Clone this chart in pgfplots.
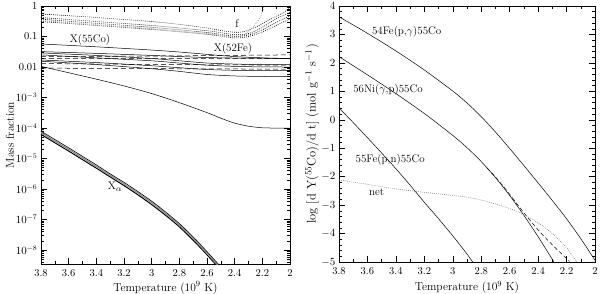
\documentclass[border=0pt]{standalone}
\usepackage{pgfplots}
\pgfplotsset{compat=1.18}
\begin{document}
\begin{tikzpicture}
\tikzset{lab/.style={font=\fontsize{11}{13}\selectfont}}
\pgfplotsset{
  panel/.style={
    scale only axis,
    tick align=inside,
    major tick length=6pt, minor tick length=3pt,
    axis line style={line width=0.8pt},
    every tick/.style={black, line width=0.5pt},
    x dir=reverse, xmin=2, xmax=3.8,
    xtick={2,2.2,2.4,2.6,2.8,3,3.2,3.4,3.6,3.8},
    xticklabels={2,2.2,2.4,2.6,2.8,3,3.2,3.4,3.6,3.8},
    minor x tick num=1,
    tick label style={font=\fontsize{10.5}{12}\selectfont},
    xticklabel style={yshift=-2pt},
    label style={font=\fontsize{11.5}{13}\selectfont},
    xlabel={Temperature (10$^9$ K)},
    clip=true,
  },
  sl/.style={black, line width=0.5pt, smooth},
  dl/.style={black, line width=0.5pt, dash pattern=on 5pt off 3pt},
  dt/.style={black, line width=0.6pt, dash pattern=on 0.8pt off 1.2pt, smooth},
}
% ---------------- left panel ----------------
\begin{axis}[panel, at={(0pt,0pt)}, anchor=south west, width=249pt, height=258pt,
  ymode=log, ymin=3.5e-9, ymax=1,
  ytick={1e-8,1e-7,1e-6,1e-5,1e-4,1e-3,1e-2,1e-1,1},
  yticklabels={$10^{-8}$,$10^{-7}$,$10^{-6}$,$10^{-5}$,$10^{-4}$,$10^{-3}$,0.01,0.1,1},
  minor ytick={4e-9,5e-9,6e-9,7e-9,8e-9,9e-9,
    2e-8,3e-8,4e-8,5e-8,6e-8,7e-8,8e-8,9e-8,
    2e-7,3e-7,4e-7,5e-7,6e-7,7e-7,8e-7,9e-7,
    2e-6,3e-6,4e-6,5e-6,6e-6,7e-6,8e-6,9e-6,
    2e-5,3e-5,4e-5,5e-5,6e-5,7e-5,8e-5,9e-5,
    2e-4,3e-4,4e-4,5e-4,6e-4,7e-4,8e-4,9e-4,
    2e-3,3e-3,4e-3,5e-3,6e-3,7e-3,8e-3,9e-3,
    2e-2,3e-2,4e-2,5e-2,6e-2,7e-2,8e-2,9e-2,
    0.2,0.3,0.4,0.5,0.6,0.7,0.8,0.9},
  ylabel={Mass fraction},
  ylabel style={at={(axis description cs:-0.125,0.5)}, anchor=center},
  xlabel style={at={(axis description cs:0.5,-0.093)}, anchor=center},
]
% dotted (f-type) curves
\addplot[dt] coordinates {(3.8,0.55)(3.6,0.48)(3.4,0.42)(3.2,0.36)(3.0,0.31)(2.8,0.25)(2.6,0.19)(2.45,0.145)(2.35,0.14)(2.25,0.2)(2.15,0.35)(2.05,0.6)(2.0,0.88)};
\addplot[dt] coordinates {(3.8,0.42)(3.4,0.31)(3.0,0.23)(2.6,0.155)(2.4,0.115)(2.3,0.125)(2.2,0.2)(2.1,0.38)(2.0,0.62)};
\addplot[dt] coordinates {(3.8,0.37)(3.4,0.27)(3.0,0.2)(2.6,0.135)(2.4,0.102)(2.3,0.112)(2.2,0.165)(2.1,0.29)(2.0,0.48)};
\addplot[dt] coordinates {(3.8,0.31)(3.4,0.23)(3.0,0.17)(2.6,0.118)(2.4,0.09)(2.3,0.1)(2.2,0.14)(2.1,0.23)(2.0,0.38)};
\addplot[dt, gray] coordinates {(3.8,0.33)(3.4,0.245)(3.0,0.18)(2.6,0.125)(2.4,0.096)(2.34,0.11)(2.3,0.15)(2.26,0.22)(2.22,0.4)(2.2,0.65)(2.185,1.0)};
% solid curves
\addplot[sl] coordinates {(3.8,0.057)(3.4,0.046)(3.0,0.036)(2.8,0.031)(2.6,0.026)(2.4,0.022)(2.2,0.020)(2.0,0.019)};
\addplot[sl] coordinates {(3.8,0.032)(3.4,0.028)(3.0,0.024)(2.8,0.022)(2.6,0.0205)(2.4,0.0197)(2.2,0.0194)(2.0,0.0193)};
\addplot[sl] coordinates {(3.8,0.029)(3.4,0.024)(3.0,0.019)(2.8,0.016)(2.6,0.0135)(2.4,0.0125)(2.2,0.012)(2.0,0.012)};
\addplot[sl] coordinates {(3.8,0.025)(3.4,0.020)(3.0,0.016)(2.8,0.0135)(2.6,0.0115)(2.4,0.0105)(2.2,0.0101)(2.0,0.010)};
\addplot[sl] coordinates {(3.8,0.017)(3.4,0.014)(3.0,0.011)(2.8,0.0095)(2.6,0.0083)(2.4,0.0078)(2.2,0.0076)(2.0,0.0076)};
\addplot[sl] coordinates {(3.8,0.0155)(3.4,0.012)(3.0,0.0088)(2.8,0.0072)(2.6,0.0057)(2.4,0.0051)(2.2,0.0049)(2.0,0.0048)};
\addplot[sl] coordinates {(3.8,0.0105)(3.6,0.0065)(3.4,0.0040)(3.2,0.0024)(3.0,0.00135)(2.8,0.00068)(2.6,0.00032)(2.5,0.00021)(2.4,0.000145)(2.3,0.000115)(2.2,0.000102)(2.1,0.0001)(2.0,0.0001)};
% dashed
\addplot[dl] coordinates {(3.8,0.022)(2.9,0.023)(2.0,0.025)};
\addplot[dl] coordinates {(3.8,0.019)(2.9,0.019)(2.0,0.0188)};
\addplot[dl] coordinates {(3.8,0.013)(2.9,0.012)(2.0,0.0115)};
\addplot[dl] coordinates {(3.8,0.0092)(2.9,0.0088)(2.0,0.0085)};
% X_alpha bundle
\addplot[black, line width=1pt, smooth] coordinates {(3.8,6.2e-5)(3.7,3.3e-5)(3.6,1.76e-5)(3.5,9.2e-6)(3.4,4.85e-6)(3.3,2.5e-6)(3.2,1.3e-6)(3.1,6.5e-7)(3.0,3.1e-7)(2.9,1.39e-7)(2.8,5.8e-8)(2.7,2.1e-8)(2.6,7.0e-9)(2.5,2.2e-9)};
\addplot[black!45, line width=1.2pt, smooth] coordinates {(3.8,7.08e-5)(3.7,3.72e-5)(3.6,2.0e-5)(3.5,1.05e-5)(3.4,5.5e-6)(3.3,2.82e-6)(3.2,1.48e-6)(3.1,7.4e-7)(3.0,3.55e-7)(2.9,1.58e-7)(2.8,6.6e-8)(2.7,2.4e-8)(2.6,7.9e-9)(2.5,2.5e-9)};
\addplot[black, line width=0.6pt, smooth] coordinates {(3.8,7.9e-5)(3.7,4.2e-5)(3.6,2.25e-5)(3.5,1.18e-5)(3.4,6.2e-6)(3.3,3.15e-6)(3.2,1.66e-6)(3.1,8.3e-7)(3.0,4.0e-7)(2.9,1.78e-7)(2.8,7.4e-8)(2.7,2.7e-8)(2.6,8.9e-9)(2.5,2.8e-9)};
% labels
\node[lab] at (axis cs:3.446,0.077) {X(55Co)};
\node[lab] at (axis cs:2.412,0.039) {X(52Fe)};
\node[lab] at (axis cs:2.383,0.257) {f};
\node[lab] at (axis cs:3.265,1.17e-6) {X$_\alpha$};
\end{axis}
% ---------------- right panel ----------------
\begin{axis}[panel, at={(298pt,2pt)}, anchor=south west, width=256pt, height=256pt,
  ymin=-5, ymax=4, ytick={-5,-4,...,4}, minor y tick num=4,
  ylabel={log [d Y($^{55}$Co)/d t] (mol g$^{-1}$ s$^{-1}$)},
  ylabel style={at={(axis description cs:-0.105,0.5)}, anchor=center, font=\fontsize{12.5}{14}\selectfont},
  xlabel style={at={(axis description cs:0.5,-0.10)}, anchor=center},
]
\addplot[sl] coordinates {(3.8,3.62)(3.6,3.04)(3.4,2.42)(3.2,1.75)(3.0,1.01)(2.9,0.59)(2.8,0.11)(2.7,-0.43)(2.6,-1.01)(2.5,-1.61)(2.4,-2.22)(2.3,-2.84)(2.2,-3.48)(2.1,-4.18)(2.0,-4.94)};
\addplot[sl] coordinates {(3.8,2.22)(3.6,1.58)(3.4,0.92)(3.2,0.22)(3.0,-0.55)(2.9,-0.98)(2.8,-1.47)(2.7,-2.03)(2.6,-2.66)(2.5,-3.36)(2.4,-4.11)(2.3,-4.91)(2.29,-5.0)};
\addplot[dl, dash pattern=on 4pt off 2.5pt, smooth] coordinates {(2.76,-1.69)(2.7,-2.01)(2.6,-2.62)(2.5,-3.27)(2.4,-3.87)(2.3,-4.4)(2.2,-4.88)(2.18,-4.98)};
\addplot[sl] coordinates {(3.8,0.42)(3.7,-0.1)(3.6,-0.63)(3.5,-1.17)(3.4,-1.72)(3.3,-2.3)(3.2,-2.9)(3.1,-3.48)(3.0,-4.08)(2.9,-4.72)(2.86,-5.0)};
\addplot[gray, line width=0.6pt, dash pattern=on 0.8pt off 1.2pt, smooth] coordinates {(3.8,-2.12)(3.6,-2.27)(3.4,-2.43)(3.2,-2.55)(3.0,-2.66)(2.9,-2.72)(2.8,-2.82)(2.7,-2.96)(2.6,-3.12)(2.5,-3.33)(2.4,-3.62)(2.3,-4.0)(2.2,-4.5)(2.15,-4.85)(2.13,-5.0)};
\node[lab] at (axis cs:3.324,3.1) {54Fe(p,$\gamma$)55Co};
\node[lab] at (axis cs:3.455,1.05) {56Ni($\gamma$,p)55Co};
\node[lab] at (axis cs:3.44,-1.41) {55Fe(p,n)55Co};
\node[lab] at (axis cs:3.535,-2.53) {net};
\end{axis}
\pgfresetboundingbox
\path (-41pt,-30pt) rectangle (559pt,264pt);
\end{tikzpicture}
\end{document}
